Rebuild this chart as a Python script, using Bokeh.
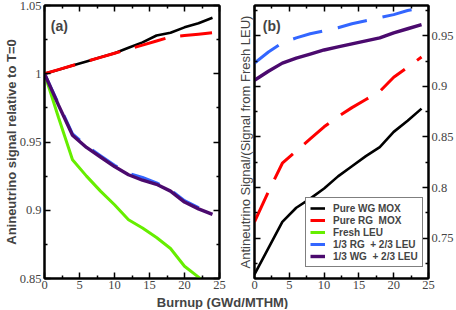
from bokeh.plotting import figure
from bokeh.models import FixedTicker, CustomJSTickFormatter, LinearAxis, Label, Range1d
from bokeh.layouts import column, row
from bokeh.embed import file_html
from bokeh.resources import INLINE

# ---------------- data ----------------
burnup = [0, 2, 4, 6, 8, 10, 12, 14, 16, 18, 20, 22, 24]

# panel (a): signal relative to T=0
wg_mox_a = [1.000, 1.003, 1.006, 1.009, 1.012, 1.015, 1.019, 1.023, 1.028, 1.030, 1.034, 1.037, 1.041]
rg_mox_a = [1.000, 1.003, 1.006, 1.009, 1.012, 1.015, 1.018, 1.021, 1.024, 1.027, 1.028, 1.029, 1.030]
fresh_leu_a = [1.000, 0.968, 0.937, 0.925, 0.914, 0.904, 0.893, 0.887, 0.880, 0.872, 0.859, 0.851, 0.842]
rg13_a = [1.000, 0.978, 0.956, 0.947, 0.940, 0.933, 0.927, 0.924, 0.920, 0.915, 0.907, 0.902, 0.897]
wg13_a = [1.000, 0.977, 0.955, 0.946, 0.939, 0.932, 0.926, 0.922, 0.919, 0.914, 0.906, 0.901, 0.897]

# panel (b): signal / signal from fresh LEU
wg_mox_b = [0.714, 0.740, 0.766, 0.780, 0.789, 0.799, 0.811, 0.821, 0.831, 0.840, 0.855, 0.866, 0.878]
rg_mox_b = [0.766, 0.796, 0.824, 0.836, 0.848, 0.860, 0.870, 0.879, 0.887, 0.895, 0.909, 0.919, 0.929]
fresh_leu_b = [1.0, 1.0, 1.0, 1.0, 1.0, 1.0, 1.0, 1.0, 1.0, 1.0, 1.0, 1.0, 1.0]
rg13_b = [0.923, 0.934, 0.943, 0.948, 0.952, 0.955, 0.958, 0.962, 0.965, 0.968, 0.971, 0.975, 0.978]
wg13_b = [0.906, 0.915, 0.923, 0.928, 0.932, 0.936, 0.939, 0.942, 0.945, 0.948, 0.953, 0.957, 0.961]

series_names = ["Pure WG MOX", "Pure RG  MOX", "Fresh LEU", "1/3 RG  + 2/3 LEU", "1/3 WG  + 2/3 LEU"]

x_ticks = [0, 5, 10, 15, 20, 25]
x_minor = [2.5, 7.5, 12.5, 17.5, 22.5]
ya_ticks = [0.85, 0.9, 0.95, 1.0, 1.05]
ya_minor = [0.875, 0.925, 0.975, 1.025]
yb_ticks = [0.75, 0.8, 0.85, 0.9, 0.95]
yb_minor = [0.725, 0.775, 0.825, 0.875, 0.925, 0.975]

x_title = "Burnup (GWd/MTHM)"
ya_title = "Anineutrino signal relative to T=0"
yb_title = "Antineutrino Signal/(Signal from Fresh LEU)"

# ---------------- styles ----------------
COLORS = ["#000000", "#ff0000", "#66ee00", "#3366ff", "#4b0a6e"]
WIDTHS = [2.6, 3, 3, 3, 3.4]
DASHES = ["solid", "32 15", "solid", "30 16", "solid"]
SERIF = "Liberation Serif"
SANS = "Liberation Sans"

fmt = CustomJSTickFormatter(code="return (Math.round(tick*1000)/1000).toString();")
blank = CustomJSTickFormatter(code="return '';")


def style_axis(ax, ticks, minor, show_labels):
    ax.ticker = FixedTicker(ticks=ticks, minor_ticks=minor)
    ax.major_tick_in = 6
    ax.major_tick_out = 0
    ax.minor_tick_in = 3
    ax.minor_tick_out = 0
    ax.axis_line_width = 2
    ax.major_tick_line_width = 1.5
    ax.minor_tick_line_width = 1.5
    ax.major_label_text_font = SERIF
    ax.major_label_standoff = 3
    ax.axis_label_standoff = 0
    if show_labels:
        ax.formatter = fmt
        ax.major_label_text_font_size = "12.5px"
    else:
        ax.formatter = blank
        ax.major_label_text_font_size = "1px"
        ax.major_label_text_color = None
        ax.major_label_standoff = 0


def make_fig(fw, yr, mbl, mbr):
    p = figure(frame_width=fw, frame_height=273, x_range=Range1d(0, 25), y_range=Range1d(*yr),
               output_backend="svg", toolbar_location=None,
               min_border_left=mbl, min_border_right=mbr, min_border_top=5, min_border_bottom=16)
    p.grid.visible = False
    p.outline_line_color = "black"
    p.outline_line_width = 2
    p.background_fill_color = "white"
    p.border_fill_color = "white"
    return p


# ---------------- panel (a) ----------------
p1 = make_fig(175, (0.85, 1.05), 35, 7)
p1.add_layout(LinearAxis(), "right")
p1.add_layout(LinearAxis(), "above")
style_axis(p1.below[0], x_ticks, x_minor, True)
style_axis(p1.above[0], x_ticks, x_minor, False)
style_axis(p1.left[0], ya_ticks, ya_minor, True)
style_axis(p1.right[0], ya_ticks, ya_minor, False)
p1.below[0].major_label_standoff = 2
p1.left[0].axis_label = ya_title
p1.left[0].axis_label_text_font = SANS
p1.left[0].axis_label_text_font_style = "bold"
p1.left[0].axis_label_text_font_size = "13px"
p1.left[0].axis_label_standoff = -2

for ys, c, w, d in zip([wg_mox_a, rg_mox_a, fresh_leu_a, rg13_a, wg13_a], COLORS, WIDTHS, DASHES):
    p1.line(burnup, ys, line_color=c, line_width=w, line_dash=d)

p1.add_layout(Label(x=0.9, y=1.035, text="(a)", text_font=SANS, text_font_style="bold",
                    text_font_size="14px", text_baseline="middle"))

# ---------------- panel (b) ----------------
p2 = make_fig(174, (0.71, 0.98), 28, 26)
p2.add_layout(LinearAxis(), "right")
p2.add_layout(LinearAxis(), "above")
style_axis(p2.below[0], x_ticks, x_minor, True)
style_axis(p2.above[0], x_ticks, x_minor, False)
style_axis(p2.left[0], yb_ticks, yb_minor, False)
style_axis(p2.right[0], yb_ticks, yb_minor, True)
p2.below[0].major_label_standoff = 2
p2.left[0].axis_label = yb_title
p2.left[0].axis_label_text_font = SANS
p2.left[0].axis_label_text_font_style = "normal"
p2.left[0].axis_label_text_font_size = "13px"
p2.left[0].axis_label_standoff = 2

for ys, c, w, d, name in zip([wg_mox_b, rg_mox_b, fresh_leu_b, rg13_b, wg13_b], COLORS, WIDTHS, DASHES, series_names):
    p2.line(burnup, ys, line_color=c, line_width=w, line_dash=d, legend_label=name)

p2.add_layout(Label(x=1.2, y=0.960, text="(b)", text_font=SANS, text_font_style="bold",
                    text_font_size="14px", text_baseline="middle"))

lg = p2.legend[0]
lg.location = (51, 11)
lg.border_line_color = "black"
lg.border_line_width = 1.5
lg.background_fill_alpha = 1.0
lg.label_text_font = SANS
lg.label_text_font_style = "bold"
lg.label_text_font_size = "10px"
lg.glyph_width = 15
lg.glyph_height = 12
lg.label_height = 12
lg.label_standoff = 8
lg.spacing = 0
lg.padding = 4
lg.margin = 0

# ---------------- common x title ----------------
p3 = figure(width=445, height=15, x_range=Range1d(0, 445), y_range=Range1d(0, 15),
            output_backend="svg", toolbar_location=None, x_axis_type=None, y_axis_type=None,
            min_border=0)
p3.grid.visible = False
p3.outline_line_color = None
p3.add_layout(Label(x=222, y=7.5, text=x_title, text_font=SANS, text_font_style="bold",
                    text_font_size="13px", text_align="center", text_baseline="middle"))

layout = column(row(p1, p2), p3)
open("out.html", "w").write(file_html(layout, INLINE))
